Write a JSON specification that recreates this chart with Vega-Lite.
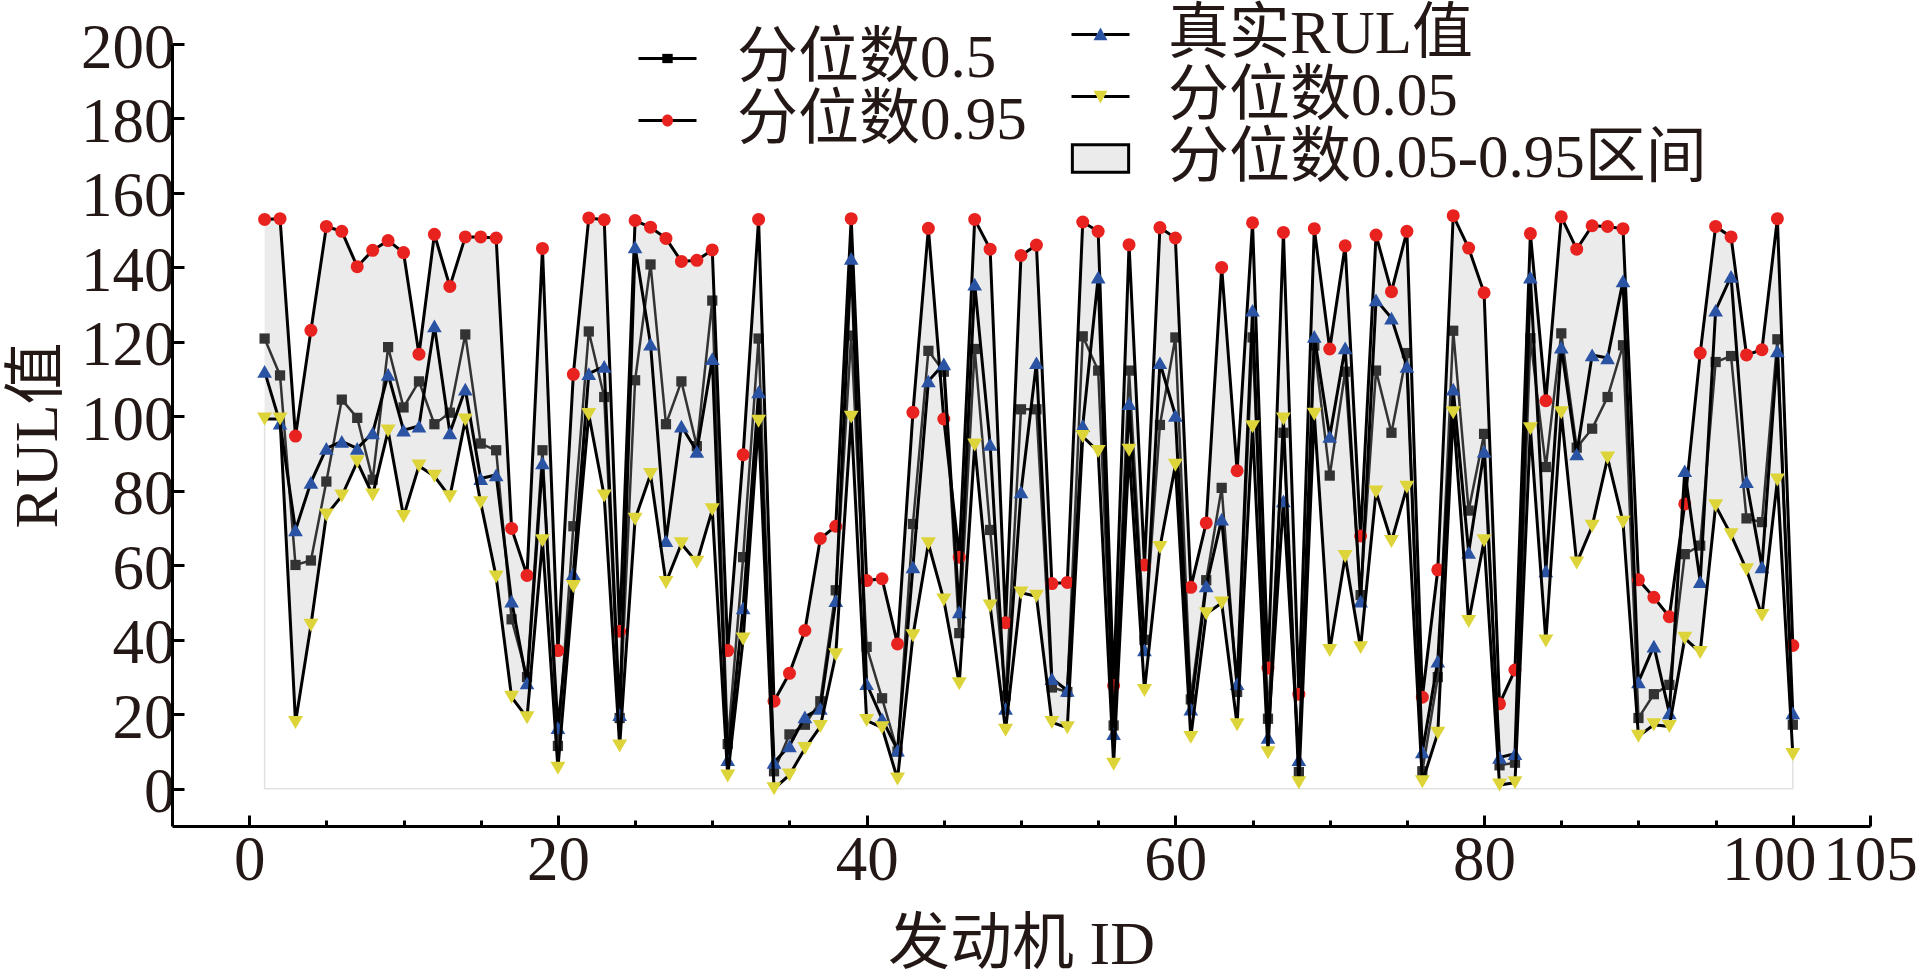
{
  "$schema": "https://vega.github.io/schema/vega-lite/v6.json",
  "width": 1698,
  "height": 782,
  "autosize": {"type": "none"},
  "padding": {"left": 172, "top": 44, "right": 53, "bottom": 154},
  "background": "white",
  "config": {
    "view": {"stroke": null},
    "font": "Liberation Serif, Noto Sans CJK SC",
    "axis": {
      "grid": false,
      "domainColor": "#000000",
      "domainWidth": 3,
      "tickColor": "#000000",
      "tickWidth": 3,
      "labelFont": "Liberation Serif, Noto Sans CJK SC",
      "labelFontSize": 63,
      "labelColor": "#231815",
      "labelOverlap": false,
      "labelFlush": false,
      "titleFont": "Liberation Serif, Noto Sans CJK SC",
      "titleFontSize": 62,
      "titleFontWeight": "normal",
      "titleColor": "#231815"
    },
    "legend": {
      "labelFont": "Liberation Serif, Noto Sans CJK SC",
      "labelFontSize": 61,
      "labelColor": "#231815",
      "labelLimit": 1000
    }
  },
  "data": {
    "values": [
      {"id": 1, "q50": 120.9, "q95": 152.9, "rul": 112.1, "q05": 99.3},
      {"id": 2, "q50": 111.0, "q95": 153.1, "rul": 98.2, "q05": 99.3},
      {"id": 3, "q50": 60.1, "q95": 94.7, "rul": 69.5, "q05": 17.8},
      {"id": 4, "q50": 61.3, "q95": 123.1, "rul": 82.3, "q05": 43.9},
      {"id": 5, "q50": 82.5, "q95": 151.0, "rul": 91.4, "q05": 73.5},
      {"id": 6, "q50": 104.5, "q95": 149.7, "rul": 93.3, "q05": 78.6},
      {"id": 7, "q50": 99.6, "q95": 140.2, "rul": 91.4, "q05": 87.8},
      {"id": 8, "q50": 83.0, "q95": 144.6, "rul": 95.6, "q05": 78.9},
      {"id": 9, "q50": 118.6, "q95": 147.2, "rul": 111.3, "q05": 96.1},
      {"id": 10, "q50": 102.4, "q95": 144.0, "rul": 96.3, "q05": 73.1},
      {"id": 11, "q50": 109.4, "q95": 116.7, "rul": 97.4, "q05": 86.7},
      {"id": 12, "q50": 97.9, "q95": 148.9, "rul": 124.3, "q05": 83.9},
      {"id": 13, "q50": 101.0, "q95": 134.9, "rul": 95.6, "q05": 78.4},
      {"id": 14, "q50": 122.0, "q95": 148.2, "rul": 107.3, "q05": 99.0},
      {"id": 15, "q50": 92.7, "q95": 148.2, "rul": 83.3, "q05": 76.8},
      {"id": 16, "q50": 90.9, "q95": 147.9, "rul": 84.3, "q05": 56.9},
      {"id": 17, "q50": 45.5, "q95": 69.9, "rul": 50.4, "q05": 24.6},
      {"id": 18, "q50": 30.0, "q95": 57.3, "rul": 28.4, "q05": 19.1},
      {"id": 19, "q50": 90.9, "q95": 145.1, "rul": 87.5, "q05": 66.6},
      {"id": 20, "q50": 11.5, "q95": 37.1, "rul": 16.4, "q05": 5.5},
      {"id": 21, "q50": 70.5, "q95": 111.3, "rul": 57.8, "q05": 54.3},
      {"id": 22, "q50": 122.8, "q95": 153.3, "rul": 111.5, "q05": 100.5},
      {"id": 23, "q50": 105.2, "q95": 152.8, "rul": 113.4, "q05": 78.6},
      {"id": 24, "q50": 19.0, "q95": 42.3, "rul": 19.9, "q05": 11.5},
      {"id": 25, "q50": 109.7, "q95": 152.6, "rul": 145.5, "q05": 72.4},
      {"id": 26, "q50": 140.8, "q95": 150.8, "rul": 119.4, "q05": 84.4},
      {"id": 27, "q50": 97.9, "q95": 147.8, "rul": 66.6, "q05": 55.4},
      {"id": 28, "q50": 109.4, "q95": 141.6, "rul": 97.4, "q05": 65.8},
      {"id": 29, "q50": 92.0, "q95": 141.9, "rul": 90.6, "q05": 60.8},
      {"id": 30, "q50": 131.1, "q95": 144.7, "rul": 115.5, "q05": 74.9},
      {"id": 31, "q50": 12.0, "q95": 37.1, "rul": 7.8, "q05": 3.4},
      {"id": 32, "q50": 62.2, "q95": 89.7, "rul": 48.6, "q05": 40.2},
      {"id": 33, "q50": 120.9, "q95": 152.9, "rul": 106.6, "q05": 98.7},
      {"id": 34, "q50": 4.7, "q95": 23.5, "rul": 7.1, "q05": 0.0},
      {"id": 35, "q50": 14.6, "q95": 31.0, "rul": 11.5, "q05": 3.7},
      {"id": 36, "q50": 17.2, "q95": 42.5, "rul": 19.3, "q05": 10.8},
      {"id": 37, "q50": 23.5, "q95": 67.2, "rul": 21.6, "q05": 16.7},
      {"id": 38, "q50": 53.3, "q95": 70.5, "rul": 50.5, "q05": 36.0},
      {"id": 39, "q50": 121.7, "q95": 153.1, "rul": 142.4, "q05": 99.8},
      {"id": 40, "q50": 38.1, "q95": 55.9, "rul": 28.2, "q05": 18.3},
      {"id": 41, "q50": 24.3, "q95": 56.4, "rul": 18.8, "q05": 16.4},
      {"id": 42, "q50": 10.0, "q95": 38.9, "rul": 10.4, "q05": 2.6},
      {"id": 43, "q50": 71.1, "q95": 101.1, "rul": 59.6, "q05": 41.1},
      {"id": 44, "q50": 117.6, "q95": 150.5, "rul": 109.5, "q05": 65.8},
      {"id": 45, "q50": 112.0, "q95": 99.3, "rul": 114.1, "q05": 50.7},
      {"id": 46, "q50": 41.8, "q95": 62.2, "rul": 47.5, "q05": 28.2},
      {"id": 47, "q50": 118.1, "q95": 152.9, "rul": 135.5, "q05": 92.3},
      {"id": 48, "q50": 69.5, "q95": 144.9, "rul": 92.5, "q05": 49.1},
      {"id": 49, "q50": 25.0, "q95": 44.6, "rul": 21.6, "q05": 15.7},
      {"id": 50, "q50": 101.9, "q95": 143.2, "rul": 79.7, "q05": 52.6},
      {"id": 51, "q50": 101.9, "q95": 146.0, "rul": 114.4, "q05": 51.7},
      {"id": 52, "q50": 27.2, "q95": 55.1, "rul": 29.6, "q05": 17.8},
      {"id": 53, "q50": 26.0, "q95": 55.4, "rul": 26.4, "q05": 16.4},
      {"id": 54, "q50": 121.5, "q95": 152.2, "rul": 97.5, "q05": 94.6},
      {"id": 55, "q50": 112.3, "q95": 149.7, "rul": 137.4, "q05": 90.6},
      {"id": 56, "q50": 17.0, "q95": 27.7, "rul": 14.8, "q05": 6.6},
      {"id": 57, "q50": 112.3, "q95": 146.1, "rul": 103.4, "q05": 90.9},
      {"id": 58, "q50": 40.0, "q95": 60.1, "rul": 37.3, "q05": 26.4},
      {"id": 59, "q50": 97.7, "q95": 150.7, "rul": 114.4, "q05": 64.8},
      {"id": 60, "q50": 121.2, "q95": 147.9, "rul": 100.3, "q05": 86.9},
      {"id": 61, "q50": 24.0, "q95": 54.1, "rul": 21.4, "q05": 13.8},
      {"id": 62, "q50": 56.0, "q95": 71.4, "rul": 54.5, "q05": 47.0},
      {"id": 63, "q50": 80.8, "q95": 140.0, "rul": 72.4, "q05": 49.9},
      {"id": 64, "q50": 26.0, "q95": 85.4, "rul": 28.2, "q05": 17.2},
      {"id": 65, "q50": 121.2, "q95": 152.0, "rul": 128.5, "q05": 97.2},
      {"id": 66, "q50": 18.8, "q95": 32.4, "rul": 13.8, "q05": 9.7},
      {"id": 67, "q50": 95.6, "q95": 149.4, "rul": 77.3, "q05": 99.3},
      {"id": 68, "q50": 4.5, "q95": 25.4, "rul": 7.8, "q05": 1.6},
      {"id": 69, "q50": 119.0, "q95": 150.4, "rul": 121.5, "q05": 100.6},
      {"id": 70, "q50": 84.1, "q95": 118.1, "rul": 94.6, "q05": 37.1},
      {"id": 71, "q50": 112.0, "q95": 145.8, "rul": 118.4, "q05": 62.4},
      {"id": 72, "q50": 52.0, "q95": 67.9, "rul": 50.4, "q05": 37.9},
      {"id": 73, "q50": 112.3, "q95": 148.7, "rul": 131.3, "q05": 79.7},
      {"id": 74, "q50": 95.6, "q95": 133.5, "rul": 126.4, "q05": 66.4},
      {"id": 75, "q50": 117.0, "q95": 149.7, "rul": 113.4, "q05": 81.0},
      {"id": 76, "q50": 4.7, "q95": 24.6, "rul": 9.9, "q05": 1.9},
      {"id": 77, "q50": 30.0, "q95": 58.8, "rul": 34.3, "q05": 14.9},
      {"id": 78, "q50": 123.0, "q95": 153.9, "rul": 107.3, "q05": 101.0},
      {"id": 79, "q50": 74.7, "q95": 145.2, "rul": 63.5, "q05": 44.9},
      {"id": 80, "q50": 95.3, "q95": 133.2, "rul": 90.6, "q05": 66.6},
      {"id": 81, "q50": 6.3, "q95": 22.8, "rul": 8.4, "q05": 1.0},
      {"id": 82, "q50": 7.0, "q95": 31.9, "rul": 9.4, "q05": 1.6},
      {"id": 83, "q50": 121.0, "q95": 149.1, "rul": 137.4, "q05": 96.7},
      {"id": 84, "q50": 86.4, "q95": 104.2, "rul": 58.5, "q05": 39.7},
      {"id": 85, "q50": 122.3, "q95": 153.6, "rul": 118.6, "q05": 101.0},
      {"id": 86, "q50": 91.6, "q95": 144.9, "rul": 89.9, "q05": 60.6},
      {"id": 87, "q50": 96.7, "q95": 151.2, "rul": 116.5, "q05": 70.5},
      {"id": 88, "q50": 105.2, "q95": 151.0, "rul": 115.7, "q05": 88.8},
      {"id": 89, "q50": 119.1, "q95": 150.4, "rul": 136.4, "q05": 71.6},
      {"id": 90, "q50": 19.0, "q95": 56.1, "rul": 28.7, "q05": 14.1},
      {"id": 91, "q50": 25.4, "q95": 51.4, "rul": 38.3, "q05": 17.2},
      {"id": 92, "q50": 27.9, "q95": 46.2, "rul": 20.4, "q05": 16.7},
      {"id": 93, "q50": 63.0, "q95": 76.5, "rul": 85.4, "q05": 40.4},
      {"id": 94, "q50": 65.3, "q95": 117.0, "rul": 55.6, "q05": 36.6},
      {"id": 95, "q50": 114.6, "q95": 151.0, "rul": 128.5, "q05": 76.0},
      {"id": 96, "q50": 116.2, "q95": 148.2, "rul": 137.6, "q05": 68.2},
      {"id": 97, "q50": 72.6, "q95": 116.5, "rul": 82.5, "q05": 58.8},
      {"id": 98, "q50": 71.6, "q95": 117.9, "rul": 59.6, "q05": 46.5},
      {"id": 99, "q50": 120.7, "q95": 153.1, "rul": 117.6, "q05": 82.9},
      {"id": 100, "q50": 17.2, "q95": 38.5, "rul": 20.4, "q05": 9.2}
    ]
  },
  "encoding": {
    "x": {
      "field": "id",
      "type": "quantitative",
      "title": "发动机 ID",
      "scale": {"domain": [-5, 105], "nice": false, "zero": false},
      "axis": {
        "values": [0, 5, 10, 15, 20, 25, 30, 35, 40, 45, 50, 55, 60, 65, 70, 75, 80, 85, 90, 95, 100, 105],
        "tickSize": {"condition": {"test": "datum.value % 20 === 0 || datum.value === 105", "value": -11}, "value": -6},
        "labelOffset": {"condition": {"test": "datum.value === 100", "value": -24}, "value": 0},
        "labelPadding": 14,
        "titlePadding": 17,
        "labelExpr": "datum.value % 20 === 0 || datum.value === 105 ? datum.label : ''"
      }
    }
  },
  "layer": [
    {
      "mark": {"type": "area", "color": "#ebebeb"},
      "encoding": {
        "y": {
          "field": "q95",
          "type": "quantitative",
          "title": "RUL值",
          "scale": {"domain": [-10, 200], "nice": false, "zero": false},
          "axis": {
            "values": [0, 10, 20, 30, 40, 50, 60, 70, 80, 90, 100, 110, 120, 130, 140, 150, 160, 170, 180, 190, 200],
            "tickSize": {"condition": {"test": "datum.value % 20 === 0", "value": -12}, "value": -5},
            "labelPadding": 9,
            "labelOffset": 4,
            "titlePadding": 11,
            "labelExpr": "datum.value % 20 === 0 ? datum.label : ''"
          }
        },
        "y2": {"datum": 0}
      }
    },
    {
      "mark": {"type": "area", "fill": "#ffffff", "stroke": "#e2e2e2", "strokeWidth": 1.5},
      "encoding": {
        "y": {"field": "q05", "type": "quantitative", "title": "RUL值"},
        "y2": {"datum": 0}
      }
    },
    {
      "mark": {"type": "line", "color": "#333333", "strokeWidth": 2.5},
      "encoding": {"y": {"field": "q50", "type": "quantitative", "title": "RUL值"}}
    },
    {
      "mark": {"type": "point", "shape": "square", "filled": true, "color": "#333333", "size": 105, "opacity": 1, "strokeWidth": 0},
      "encoding": {"y": {"field": "q50", "type": "quantitative", "title": "RUL值"}}
    },
    {
      "mark": {"type": "line", "color": "#000000", "strokeWidth": 3},
      "encoding": {"y": {"field": "q95", "type": "quantitative", "title": "RUL值"}}
    },
    {
      "mark": {"type": "point", "shape": "circle", "filled": true, "color": "#e8221e", "size": 169, "opacity": 1, "strokeWidth": 0},
      "encoding": {"y": {"field": "q95", "type": "quantitative", "title": "RUL值"}}
    },
    {
      "mark": {"type": "line", "color": "#000000", "strokeWidth": 3},
      "encoding": {"y": {"field": "rul", "type": "quantitative", "title": "RUL值"}}
    },
    {
      "mark": {"type": "point", "shape": "triangle-up", "filled": true, "color": "#2a53a3", "size": 216, "opacity": 1, "strokeWidth": 0},
      "encoding": {"y": {"field": "rul", "type": "quantitative", "title": "RUL值"}}
    },
    {
      "mark": {"type": "line", "color": "#000000", "strokeWidth": 3},
      "encoding": {"y": {"field": "q05", "type": "quantitative", "title": "RUL值"}}
    },
    {
      "mark": {"type": "point", "shape": "triangle-down", "filled": true, "color": "#ddd43a", "size": 225, "opacity": 1, "strokeWidth": 0},
      "encoding": {"y": {"field": "q05", "type": "quantitative", "title": "RUL值"}}
    },
    {
      "data": {"values": []},
      "mark": {"type": "point", "filled": false, "color": "#000000", "opacity": 1, "strokeWidth": 3},
      "encoding": {
        "shape": {
          "field": "s",
          "type": "nominal",
          "scale": {"domain": ["分位数0.5", "分位数0.95"], "range": ["M-1,0H-0.12M0.12,0H1", "M-1,0H-0.12M0.12,0H1"]},
          "legend": {
            "orient": "none", "legendX": 465, "legendY": -16, "title": null, "padding": 0,
            "symbolSize": 3364, "symbolStrokeColor": "#000000", "symbolFillColor": "transparent",
            "symbolStrokeWidth": 3, "symbolOpacity": 1, "labelOffset": 39, "rowPadding": 0
          }
        }
      }
    },
    {
      "data": {"values": []},
      "mark": {"type": "point", "filled": true, "opacity": 1, "strokeWidth": 0},
      "encoding": {
        "shape": {
          "field": "s",
          "type": "nominal",
          "scale": {"domain": ["分位数0.5", "分位数0.95"], "range": ["M-0.18,-0.16H0.18V0.16H-0.18Z", "M-0.19,0A0.19,0.21 0 1,0 0.19,0A0.19,0.21 0 1,0 -0.19,0Z"]}
        },
        "fill": {
          "field": "s",
          "type": "nominal",
          "scale": {"domain": ["分位数0.5", "分位数0.95"], "range": ["#000000", "#e8221e"]},
          "legend": {
            "orient": "none", "legendX": 465, "legendY": -16, "title": null, "padding": 0,
            "symbolSize": 3364, "symbolStrokeWidth": 0, "symbolOpacity": 1,
            "labelOffset": 39, "rowPadding": 0, "labelOpacity": 0
          }
        }
      }
    },
    {
      "data": {"values": []},
      "mark": {"type": "point", "filled": false, "color": "#000000", "opacity": 1, "strokeWidth": 3},
      "encoding": {
        "shape": {
          "field": "s",
          "type": "nominal",
          "scale": {"domain": ["真实RUL值", "分位数0.05", "分位数0.05-0.95区间"], "range": ["M-1,0H-0.12M0.12,0H1", "M-1,0H-0.12M0.12,0H1", "M0,0"]},
          "legend": {
            "orient": "none", "legendX": 898, "legendY": -40, "title": null, "padding": 0,
            "symbolSize": 3364, "symbolStrokeColor": "#000000", "symbolFillColor": "transparent",
            "symbolStrokeWidth": 3, "symbolOpacity": 1, "labelOffset": 37, "rowPadding": 0
          }
        }
      }
    },
    {
      "data": {"values": []},
      "mark": {"type": "point", "filled": true, "opacity": 1, "strokeWidth": 3},
      "encoding": {
        "shape": {
          "field": "s",
          "type": "nominal",
          "scale": {"domain": ["真实RUL值", "分位数0.05", "分位数0.05-0.95区间"], "range": ["M0,-0.24L0.24,0.2H-0.24Z", "M0,0.24L0.24,-0.2H-0.24Z", "M-0.97,-0.47H0.97V0.47H-0.97Z"]}
        },
        "fill": {
          "field": "s",
          "type": "nominal",
          "scale": {"domain": ["真实RUL值", "分位数0.05", "分位数0.05-0.95区间"], "range": ["#2a53a3", "#ddd43a", "#ebebeb"]}
        },
        "stroke": {
          "field": "s",
          "type": "nominal",
          "scale": {"domain": ["真实RUL值", "分位数0.05", "分位数0.05-0.95区间"], "range": ["transparent", "transparent", "#000000"]},
          "legend": {
            "orient": "none", "legendX": 898, "legendY": -40, "title": null, "padding": 0,
            "symbolSize": 3364, "symbolStrokeWidth": 3, "symbolOpacity": 1,
            "labelOffset": 37, "rowPadding": 0, "labelOpacity": 0
          }
        }
      }
    }
  ],
  "resolve": {"scale": {"shape": "independent", "fill": "independent", "stroke": "independent"}}
}
